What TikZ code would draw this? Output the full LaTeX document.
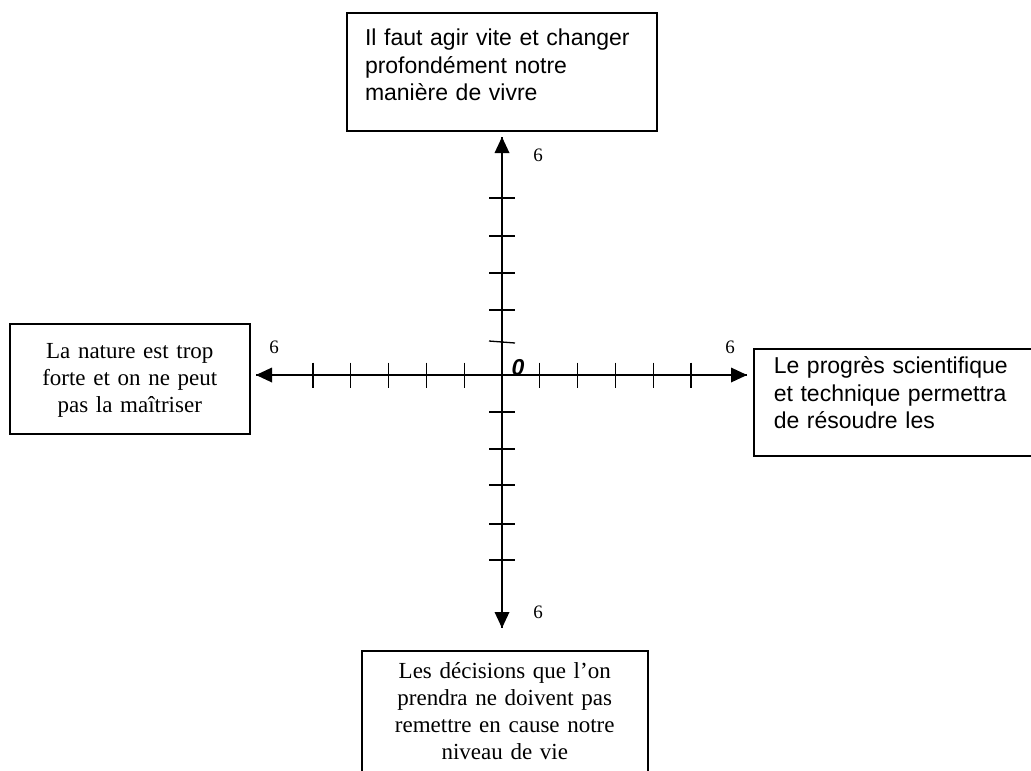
\documentclass[tikz,border=0pt]{standalone}
\usepackage{fontspec}
\setmainfont{Liberation Serif}
\setsansfont{Liberation Sans}
\usetikzlibrary{positioning}

\begin{document}
\begin{tikzpicture}[x=1pt,y=1pt]
\tikzstyle{every node}+=[inner sep=0pt]
\tikzstyle{box}=[draw=black, line width=1.5pt]
\tikzstyle{sansbox}=[box, font=\fontsize{23}{27.5}\selectfont\sffamily, align=left]
\tikzstyle{serifbox}=[box, font=\fontsize{23}{27}\selectfont, align=center]
\tikzstyle{axis}=[black, line width=1.5pt]
\tikzstyle{tick}=[black, line width=1.3pt]
\tikzstyle{num}=[font=\fontsize{19}{19}\selectfont]
\clip (0,0) rectangle (1031,-771);
% axes
\coordinate (O) at (502,-375);
\coordinate (up) at (502,-137);
\coordinate (down) at (502,-628);
\coordinate (west) at (256,-375);
\coordinate (east) at (747,-375);
\draw [axis] (O) -- (up);
\draw [axis] (O) -- (down);
\draw [axis] (O) -- (west);
\draw [axis] (O) -- (east);
\fill [black] (up) -- ++(-7.5,-16) -- ++(15,0) -- cycle;
\fill [black] (down) -- ++(-7.5,16) -- ++(15,0) -- cycle;
\fill [black] (west) -- ++(16,7.5) -- ++(0,-15) -- cycle;
\fill [black] (east) -- ++(-16,7.5) -- ++(0,-15) -- cycle;
% ticks
\foreach \x in {1,...,5} {
  \draw [tick] (502+37.8*\x,-362.5) -- (502+37.8*\x,-387.5);
  \draw [tick] (502-37.8*\x,-362.5) -- (502-37.8*\x,-387.5);
}
\foreach \y in {198,236,273,310,412,449,485,524,560}
  \draw [tick] (489,-\y) -- (515,-\y);
\draw [tick] (489,-341) -- (515,-343);
% labels
\node [num] (ntop) at (538,-155) {6};
\node [num] (nbottom) at (538,-612) {6};
\node [num] (nleft) at (274,-347) {6};
\node [num] (nright) at (730,-347) {6};
\node [font=\fontsize{23}{23}\selectfont\sffamily\bfseries\itshape] (zero) at (518,-368) {0};
% boxes
\node [sansbox, anchor=north, inner xsep=18pt, text width=274pt, text height=33pt, text depth=85pt] (agir) at (502,-12)
  {Il faut agir vite et changer\\profondément notre\\manière de vivre};
\node [serifbox, anchor=north west, text width=240pt, text height=35pt, text depth=75pt] (nature) at (9,-323)
  {La nature est trop\\forte et on ne peut\\pas la maîtriser};
\node [sansbox, anchor=north west, inner xsep=20pt, text width=280pt, text height=25pt, text depth=82pt] (progres) at (753,-348)
  {Le progrès scientifique\\et technique permettra\\de résoudre les};
\node [serifbox, anchor=north west, text width=286pt, text height=28pt, text depth=120pt] (decisions) at (361,-650)
  {Les décisions que l’on\\prendra ne doivent pas\\remettre en cause notre\\niveau de vie};
\end{tikzpicture}
\end{document}
